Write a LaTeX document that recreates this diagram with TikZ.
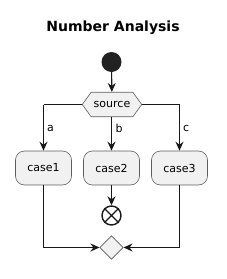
\documentclass[tikz,border=0pt]{standalone}
\usepackage{fontspec}
\setmainfont{DejaVu Sans}
\usetikzlibrary{arrows.meta,shapes.geometric,shapes.symbols}
\definecolor{bordc}{HTML}{181818}
\definecolor{fillc}{HTML}{F1F1F1}
\definecolor{startc}{HTML}{222222}
\tikzset{
  x=1pt, y=-1pt,
  edge/.style={draw=bordc, line width=1.1pt, -{Stealth[length=9pt,width=8pt,inset=3pt]}},
  plain/.style={draw=bordc, line width=1.1pt},
  actbox/.style={draw=bordc!70, fill=fillc, rounded corners=9pt, minimum width=56pt, minimum height=34pt, inner sep=0pt, font=\fontsize{11}{13}\selectfont, line width=0.6pt},
  hexbox/.style={signal, signal to=west and east, signal pointer angle=108, draw=bordc!70, fill=fillc, minimum width=59.5pt, minimum height=24.5pt, inner sep=0pt, font=\fontsize{11}{13}\selectfont, line width=0.6pt},
  mergebox/.style={diamond, draw=bordc!70, fill=fillc, minimum width=23.5pt, minimum height=23.5pt, inner sep=0pt, line width=0.6pt},
  lbl/.style={font=\fontsize{11}{13}\selectfont, anchor=west, inner sep=0pt}
}
\begin{document}
\begin{tikzpicture}
\useasboundingbox (0,0) rectangle (226,279);
\node[font=\bfseries\fontsize{14}{16}\selectfont] (title) at (113,28) {Number Analysis};
\node[circle, fill=startc, minimum size=20pt, inner sep=0pt] (start) at (111.5,62) {};
\node[hexbox] (src) at (112,104.5) {source};
\node[actbox] (c1) at (43.5,168) {case1};
\node[actbox] (c2) at (111.5,168) {case2};
\node[actbox] (c3) at (179.5,168) {case3};
\node[circle, draw=bordc, line width=1.4pt, minimum size=19pt, inner sep=0pt] (stop) at (111.5,215.5) {};
\draw[bordc, line width=1.4pt] (stop.45) -- (stop.225) (stop.135) -- (stop.315);
\node[mergebox] (merge) at (111.5,247.5) {};
\coordinate (la) at (43.5,104.5);
\coordinate (rc) at (179.5,104.5);
\coordinate (lb) at (43.5,247.5);
\coordinate (rb) at (179.5,247.5);
\draw[edge] (start) -- (src);
\draw[plain] (src.west) -- (la);
\draw[edge] (la) -- (c1.north);
\draw[edge] (src.south -| c2) -- (c2.north);
\draw[plain] (src.east) -- (rc);
\draw[edge] (rc) -- (c3.north);
\draw[edge] (c2) -- (stop);
\draw[plain] (c1.south) -- (lb);
\draw[edge] (lb) -- (merge.west);
\draw[plain] (c3.south) -- (rb);
\draw[edge] (rb) -- (merge.east);
\node[lbl] (la1) at (47,128.5) {a};
\node[lbl] (lb1) at (115.5,128.5) {b};
\node[lbl] (lc1) at (183,128.5) {c};
\end{tikzpicture}
\end{document}
